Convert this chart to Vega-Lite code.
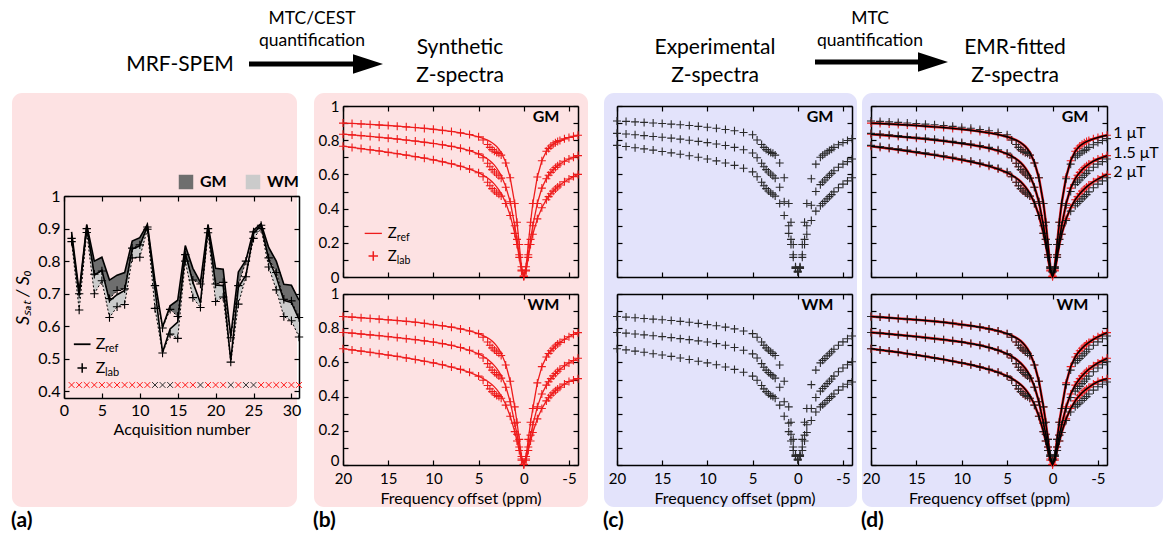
{
"$schema": "https://vega.github.io/schema/vega-lite/v6.json",
"background": "white",
"padding": 0,
"autosize": {"type": "pad"},
"bounds": "flush",
"spacing": 0,
"datasets": {
"acq": [
{"n":1,"t":"GM","ref":0.890,"lab":0.870},{"n":1,"t":"WM","ref":0.875,"lab":0.860},
{"n":2,"t":"GM","ref":0.705,"lab":0.700},{"n":2,"t":"WM","ref":0.695,"lab":0.650},
{"n":3,"t":"GM","ref":0.912,"lab":0.900},{"n":3,"t":"WM","ref":0.905,"lab":0.888},
{"n":4,"t":"GM","ref":0.800,"lab":0.760},{"n":4,"t":"WM","ref":0.757,"lab":0.700},
{"n":5,"t":"GM","ref":0.812,"lab":0.770},{"n":5,"t":"WM","ref":0.772,"lab":0.740},
{"n":6,"t":"GM","ref":0.742,"lab":0.685},{"n":6,"t":"WM","ref":0.678,"lab":0.627},
{"n":7,"t":"GM","ref":0.757,"lab":0.710},{"n":7,"t":"WM","ref":0.697,"lab":0.660},
{"n":8,"t":"GM","ref":0.765,"lab":0.715},{"n":8,"t":"WM","ref":0.710,"lab":0.667},
{"n":9,"t":"GM","ref":0.862,"lab":0.840},{"n":9,"t":"WM","ref":0.837,"lab":0.810},
{"n":10,"t":"GM","ref":0.872,"lab":0.850},{"n":10,"t":"WM","ref":0.847,"lab":0.812},
{"n":11,"t":"GM","ref":0.913,"lab":0.905},{"n":11,"t":"WM","ref":0.907,"lab":0.898},
{"n":12,"t":"GM","ref":0.740,"lab":0.725},{"n":12,"t":"WM","ref":0.715,"lab":0.655},
{"n":13,"t":"GM","ref":0.598,"lab":0.595},{"n":13,"t":"WM","ref":0.520,"lab":0.518},
{"n":14,"t":"GM","ref":0.663,"lab":0.652},{"n":14,"t":"WM","ref":0.592,"lab":0.576},
{"n":15,"t":"GM","ref":0.680,"lab":0.630},{"n":15,"t":"WM","ref":0.613,"lab":0.563},
{"n":16,"t":"GM","ref":0.848,"lab":0.820},{"n":16,"t":"WM","ref":0.825,"lab":0.800},
{"n":17,"t":"GM","ref":0.778,"lab":0.742},{"n":17,"t":"WM","ref":0.735,"lab":0.688},
{"n":18,"t":"GM","ref":0.735,"lab":0.730},{"n":18,"t":"WM","ref":0.672,"lab":0.658},
{"n":19,"t":"GM","ref":0.912,"lab":0.900},{"n":19,"t":"WM","ref":0.905,"lab":0.887},
{"n":20,"t":"GM","ref":0.778,"lab":0.730},{"n":20,"t":"WM","ref":0.727,"lab":0.676},
{"n":21,"t":"GM","ref":0.775,"lab":0.735},{"n":21,"t":"WM","ref":0.725,"lab":0.690},
{"n":22,"t":"GM","ref":0.570,"lab":0.565},{"n":22,"t":"WM","ref":0.495,"lab":0.490},
{"n":23,"t":"GM","ref":0.767,"lab":0.725},{"n":23,"t":"WM","ref":0.720,"lab":0.668},
{"n":24,"t":"GM","ref":0.803,"lab":0.800},{"n":24,"t":"WM","ref":0.757,"lab":0.752},
{"n":25,"t":"GM","ref":0.895,"lab":0.890},{"n":25,"t":"WM","ref":0.885,"lab":0.870},
{"n":26,"t":"GM","ref":0.915,"lab":0.910},{"n":26,"t":"WM","ref":0.910,"lab":0.900},
{"n":27,"t":"GM","ref":0.842,"lab":0.810},{"n":27,"t":"WM","ref":0.806,"lab":0.782},
{"n":28,"t":"GM","ref":0.800,"lab":0.765},{"n":28,"t":"WM","ref":0.752,"lab":0.712},
{"n":29,"t":"GM","ref":0.729,"lab":0.683},{"n":29,"t":"WM","ref":0.680,"lab":0.630},
{"n":30,"t":"GM","ref":0.726,"lab":0.678},{"n":30,"t":"WM","ref":0.673,"lab":0.617},
{"n":31,"t":"GM","ref":0.680,"lab":0.627},{"n":31,"t":"WM","ref":0.622,"lab":0.567}
],
"sched": [
{"n":1,"g":"r"},{"n":2,"g":"r"},{"n":3,"g":"r"},{"n":4,"g":"r"},{"n":5,"g":"r"},{"n":6,"g":"r"},{"n":7,"g":"r"},{"n":8,"g":"r"},{"n":9,"g":"r"},{"n":10,"g":"r"},{"n":11,"g":"r"},{"n":12,"g":"k"},{"n":13,"g":"k"},{"n":14,"g":"k"},{"n":15,"g":"r"},{"n":16,"g":"r"},{"n":17,"g":"r"},{"n":18,"g":"k"},{"n":19,"g":"r"},{"n":20,"g":"r"},{"n":21,"g":"r"},{"n":22,"g":"k"},{"n":23,"g":"r"},{"n":24,"g":"k"},{"n":25,"g":"k"},{"n":26,"g":"r"},{"n":27,"g":"r"},{"n":28,"g":"r"},{"n":29,"g":"r"},{"n":30,"g":"r"},{"n":31,"g":"r"}
],
"z": [
{"t":"GM","b":1,"o":20,"r":0.900,"l":0.900,"e":0.912},{"t":"GM","b":1,"o":19,"r":0.898,"l":0.898,"e":0.910},{"t":"GM","b":1,"o":18,"r":0.895,"l":0.895,"e":0.907},{"t":"GM","b":1,"o":17,"r":0.892,"l":0.892,"e":0.904},{"t":"GM","b":1,"o":16,"r":0.889,"l":0.889,"e":0.901},{"t":"GM","b":1,"o":15,"r":0.886,"l":0.886,"e":0.898},{"t":"GM","b":1,"o":14,"r":0.882,"l":0.882,"e":0.894},{"t":"GM","b":1,"o":13,"r":0.878,"l":0.878,"e":0.890},{"t":"GM","b":1,"o":12,"r":0.874,"l":0.874,"e":0.886},{"t":"GM","b":1,"o":11,"r":0.869,"l":0.869,"e":0.881},{"t":"GM","b":1,"o":10,"r":0.864,"l":0.864,"e":0.876},{"t":"GM","b":1,"o":9,"r":0.858,"l":0.858,"e":0.870},{"t":"GM","b":1,"o":8,"r":0.851,"l":0.851,"e":0.863},{"t":"GM","b":1,"o":7,"r":0.843,"l":0.843,"e":0.855},{"t":"GM","b":1,"o":6,"r":0.833,"l":0.833,"e":0.845},{"t":"GM","b":1,"o":5,"r":0.820,"l":0.820,"e":0.832},{"t":"GM","b":1,"o":4.5,"r":0.811,"l":0.801,"e":0.801},{"t":"GM","b":1,"o":4,"r":0.800,"l":0.775,"e":0.775},{"t":"GM","b":1,"o":3.75,"r":0.793,"l":0.758,"e":0.758},{"t":"GM","b":1,"o":3.5,"r":0.785,"l":0.745,"e":0.745},{"t":"GM","b":1,"o":3.25,"r":0.775,"l":0.735,"e":0.735},{"t":"GM","b":1,"o":3,"r":0.763,"l":0.728,"e":0.728},{"t":"GM","b":1,"o":2.75,"r":0.748,"l":0.723,"e":0.723},{"t":"GM","b":1,"o":2.5,"r":0.728,"l":0.713,"e":0.713},{"t":"GM","b":1,"o":2,"r":0.672,"l":0.667,"e":0.667},{"t":"GM","b":1,"o":1.5,"r":0.580,"l":0.580,"e":0.580},{"t":"GM","b":1,"o":1,"r":0.430,"l":0.430,"e":0.430},{"t":"GM","b":1,"o":0.75,"r":0.320,"l":0.320,"e":0.320},{"t":"GM","b":1,"o":0.5,"r":0.190,"l":0.190,"e":0.190},{"t":"GM","b":1,"o":0.25,"r":0.060,"l":0.060,"e":0.060},{"t":"GM","b":1,"o":0,"r":0.005,"l":0.005,"e":0.035},{"t":"GM","b":1,"o":-0.25,"r":0.060,"l":0.060,"e":0.060},{"t":"GM","b":1,"o":-0.5,"r":0.190,"l":0.190,"e":0.190},{"t":"GM","b":1,"o":-0.75,"r":0.320,"l":0.320,"e":0.320},{"t":"GM","b":1,"o":-1,"r":0.430,"l":0.430,"e":0.430},{"t":"GM","b":1,"o":-1.5,"r":0.585,"l":0.585,"e":0.575},{"t":"GM","b":1,"o":-2,"r":0.680,"l":0.680,"e":0.660},{"t":"GM","b":1,"o":-2.5,"r":0.735,"l":0.735,"e":0.700},{"t":"GM","b":1,"o":-2.75,"r":0.752,"l":0.752,"e":0.712},{"t":"GM","b":1,"o":-3,"r":0.766,"l":0.766,"e":0.721},{"t":"GM","b":1,"o":-3.25,"r":0.776,"l":0.776,"e":0.731},{"t":"GM","b":1,"o":-3.5,"r":0.785,"l":0.785,"e":0.740},{"t":"GM","b":1,"o":-3.75,"r":0.792,"l":0.792,"e":0.747},{"t":"GM","b":1,"o":-4,"r":0.798,"l":0.798,"e":0.758},{"t":"GM","b":1,"o":-4.5,"r":0.808,"l":0.808,"e":0.773},{"t":"GM","b":1,"o":-5,"r":0.816,"l":0.816,"e":0.786},{"t":"GM","b":1,"o":-5.5,"r":0.823,"l":0.823,"e":0.798},{"t":"GM","b":1,"o":-6,"r":0.829,"l":0.829,"e":0.809},
{"t":"GM","b":1.5,"o":20,"r":0.835,"l":0.835,"e":0.840},{"t":"GM","b":1.5,"o":19,"r":0.831,"l":0.831,"e":0.836},{"t":"GM","b":1.5,"o":18,"r":0.827,"l":0.827,"e":0.832},{"t":"GM","b":1.5,"o":17,"r":0.822,"l":0.822,"e":0.827},{"t":"GM","b":1.5,"o":16,"r":0.817,"l":0.817,"e":0.822},{"t":"GM","b":1.5,"o":15,"r":0.812,"l":0.812,"e":0.817},{"t":"GM","b":1.5,"o":14,"r":0.807,"l":0.807,"e":0.812},{"t":"GM","b":1.5,"o":13,"r":0.801,"l":0.801,"e":0.806},{"t":"GM","b":1.5,"o":12,"r":0.795,"l":0.795,"e":0.800},{"t":"GM","b":1.5,"o":11,"r":0.788,"l":0.788,"e":0.793},{"t":"GM","b":1.5,"o":10,"r":0.781,"l":0.781,"e":0.786},{"t":"GM","b":1.5,"o":9,"r":0.773,"l":0.773,"e":0.778},{"t":"GM","b":1.5,"o":8,"r":0.764,"l":0.764,"e":0.769},{"t":"GM","b":1.5,"o":7,"r":0.753,"l":0.753,"e":0.758},{"t":"GM","b":1.5,"o":6,"r":0.739,"l":0.739,"e":0.744},{"t":"GM","b":1.5,"o":5,"r":0.720,"l":0.720,"e":0.725},{"t":"GM","b":1.5,"o":4.5,"r":0.707,"l":0.697,"e":0.697},{"t":"GM","b":1.5,"o":4,"r":0.690,"l":0.665,"e":0.665},{"t":"GM","b":1.5,"o":3.75,"r":0.680,"l":0.645,"e":0.645},{"t":"GM","b":1.5,"o":3.5,"r":0.668,"l":0.628,"e":0.628},{"t":"GM","b":1.5,"o":3.25,"r":0.654,"l":0.614,"e":0.614},{"t":"GM","b":1.5,"o":3,"r":0.637,"l":0.602,"e":0.602},{"t":"GM","b":1.5,"o":2.75,"r":0.617,"l":0.592,"e":0.592},{"t":"GM","b":1.5,"o":2.5,"r":0.593,"l":0.578,"e":0.578},{"t":"GM","b":1.5,"o":2,"r":0.530,"l":0.525,"e":0.525},{"t":"GM","b":1.5,"o":1.5,"r":0.440,"l":0.440,"e":0.440},{"t":"GM","b":1.5,"o":1,"r":0.300,"l":0.300,"e":0.300},{"t":"GM","b":1.5,"o":0.75,"r":0.220,"l":0.220,"e":0.220},{"t":"GM","b":1.5,"o":0.5,"r":0.130,"l":0.130,"e":0.130},{"t":"GM","b":1.5,"o":0.25,"r":0.040,"l":0.040,"e":0.055},{"t":"GM","b":1.5,"o":0,"r":0.004,"l":0.004,"e":0.030},{"t":"GM","b":1.5,"o":-0.25,"r":0.040,"l":0.040,"e":0.055},{"t":"GM","b":1.5,"o":-0.5,"r":0.130,"l":0.130,"e":0.130},{"t":"GM","b":1.5,"o":-0.75,"r":0.220,"l":0.220,"e":0.220},{"t":"GM","b":1.5,"o":-1,"r":0.300,"l":0.300,"e":0.300},{"t":"GM","b":1.5,"o":-1.5,"r":0.430,"l":0.430,"e":0.420},{"t":"GM","b":1.5,"o":-2,"r":0.520,"l":0.520,"e":0.500},{"t":"GM","b":1.5,"o":-2.5,"r":0.575,"l":0.575,"e":0.540},{"t":"GM","b":1.5,"o":-2.75,"r":0.595,"l":0.595,"e":0.555},{"t":"GM","b":1.5,"o":-3,"r":0.612,"l":0.612,"e":0.567},{"t":"GM","b":1.5,"o":-3.25,"r":0.627,"l":0.627,"e":0.582},{"t":"GM","b":1.5,"o":-3.5,"r":0.640,"l":0.640,"e":0.595},{"t":"GM","b":1.5,"o":-3.75,"r":0.651,"l":0.651,"e":0.606},{"t":"GM","b":1.5,"o":-4,"r":0.661,"l":0.661,"e":0.621},{"t":"GM","b":1.5,"o":-4.5,"r":0.677,"l":0.677,"e":0.642},{"t":"GM","b":1.5,"o":-5,"r":0.690,"l":0.690,"e":0.660},{"t":"GM","b":1.5,"o":-5.5,"r":0.700,"l":0.700,"e":0.675},{"t":"GM","b":1.5,"o":-6,"r":0.710,"l":0.710,"e":0.690},
{"t":"GM","b":2,"o":20,"r":0.765,"l":0.765,"e":0.770},{"t":"GM","b":2,"o":19,"r":0.758,"l":0.758,"e":0.763},{"t":"GM","b":2,"o":18,"r":0.751,"l":0.751,"e":0.756},{"t":"GM","b":2,"o":17,"r":0.744,"l":0.744,"e":0.749},{"t":"GM","b":2,"o":16,"r":0.737,"l":0.737,"e":0.742},{"t":"GM","b":2,"o":15,"r":0.729,"l":0.729,"e":0.734},{"t":"GM","b":2,"o":14,"r":0.721,"l":0.721,"e":0.726},{"t":"GM","b":2,"o":13,"r":0.713,"l":0.713,"e":0.718},{"t":"GM","b":2,"o":12,"r":0.704,"l":0.704,"e":0.709},{"t":"GM","b":2,"o":11,"r":0.695,"l":0.695,"e":0.700},{"t":"GM","b":2,"o":10,"r":0.685,"l":0.685,"e":0.690},{"t":"GM","b":2,"o":9,"r":0.674,"l":0.674,"e":0.679},{"t":"GM","b":2,"o":8,"r":0.662,"l":0.662,"e":0.667},{"t":"GM","b":2,"o":7,"r":0.648,"l":0.648,"e":0.653},{"t":"GM","b":2,"o":6,"r":0.631,"l":0.631,"e":0.636},{"t":"GM","b":2,"o":5,"r":0.610,"l":0.610,"e":0.615},{"t":"GM","b":2,"o":4.5,"r":0.596,"l":0.586,"e":0.586},{"t":"GM","b":2,"o":4,"r":0.579,"l":0.554,"e":0.554},{"t":"GM","b":2,"o":3.75,"r":0.569,"l":0.534,"e":0.534},{"t":"GM","b":2,"o":3.5,"r":0.557,"l":0.517,"e":0.517},{"t":"GM","b":2,"o":3.25,"r":0.543,"l":0.503,"e":0.503},{"t":"GM","b":2,"o":3,"r":0.527,"l":0.492,"e":0.492},{"t":"GM","b":2,"o":2.75,"r":0.509,"l":0.484,"e":0.484},{"t":"GM","b":2,"o":2.5,"r":0.488,"l":0.473,"e":0.473},{"t":"GM","b":2,"o":2,"r":0.435,"l":0.430,"e":0.430},{"t":"GM","b":2,"o":1.5,"r":0.360,"l":0.360,"e":0.360},{"t":"GM","b":2,"o":1,"r":0.255,"l":0.255,"e":0.255},{"t":"GM","b":2,"o":0.75,"r":0.190,"l":0.190,"e":0.190},{"t":"GM","b":2,"o":0.5,"r":0.115,"l":0.115,"e":0.115},{"t":"GM","b":2,"o":0.25,"r":0.035,"l":0.035,"e":0.050},{"t":"GM","b":2,"o":0,"r":0.003,"l":0.003,"e":0.030},{"t":"GM","b":2,"o":-0.25,"r":0.035,"l":0.035,"e":0.050},{"t":"GM","b":2,"o":-0.5,"r":0.115,"l":0.115,"e":0.115},{"t":"GM","b":2,"o":-0.75,"r":0.190,"l":0.190,"e":0.190},{"t":"GM","b":2,"o":-1,"r":0.250,"l":0.250,"e":0.250},{"t":"GM","b":2,"o":-1.5,"r":0.340,"l":0.340,"e":0.330},{"t":"GM","b":2,"o":-2,"r":0.405,"l":0.405,"e":0.385},{"t":"GM","b":2,"o":-2.5,"r":0.452,"l":0.452,"e":0.417},{"t":"GM","b":2,"o":-2.75,"r":0.470,"l":0.470,"e":0.430},{"t":"GM","b":2,"o":-3,"r":0.487,"l":0.487,"e":0.442},{"t":"GM","b":2,"o":-3.25,"r":0.502,"l":0.502,"e":0.457},{"t":"GM","b":2,"o":-3.5,"r":0.515,"l":0.515,"e":0.470},{"t":"GM","b":2,"o":-3.75,"r":0.527,"l":0.527,"e":0.482},{"t":"GM","b":2,"o":-4,"r":0.538,"l":0.538,"e":0.498},{"t":"GM","b":2,"o":-4.5,"r":0.557,"l":0.557,"e":0.522},{"t":"GM","b":2,"o":-5,"r":0.573,"l":0.573,"e":0.543},{"t":"GM","b":2,"o":-5.5,"r":0.587,"l":0.587,"e":0.562},{"t":"GM","b":2,"o":-6,"r":0.600,"l":0.600,"e":0.580},
{"t":"WM","b":1,"o":20,"r":0.868,"l":0.868,"e":0.868},{"t":"WM","b":1,"o":19,"r":0.865,"l":0.865,"e":0.865},{"t":"WM","b":1,"o":18,"r":0.861,"l":0.861,"e":0.861},{"t":"WM","b":1,"o":17,"r":0.857,"l":0.857,"e":0.857},{"t":"WM","b":1,"o":16,"r":0.853,"l":0.853,"e":0.853},{"t":"WM","b":1,"o":15,"r":0.849,"l":0.849,"e":0.849},{"t":"WM","b":1,"o":14,"r":0.845,"l":0.845,"e":0.845},{"t":"WM","b":1,"o":13,"r":0.840,"l":0.840,"e":0.840},{"t":"WM","b":1,"o":12,"r":0.835,"l":0.835,"e":0.835},{"t":"WM","b":1,"o":11,"r":0.828,"l":0.828,"e":0.828},{"t":"WM","b":1,"o":10,"r":0.821,"l":0.821,"e":0.821},{"t":"WM","b":1,"o":9,"r":0.814,"l":0.814,"e":0.814},{"t":"WM","b":1,"o":8,"r":0.806,"l":0.806,"e":0.806},{"t":"WM","b":1,"o":7,"r":0.796,"l":0.796,"e":0.796},{"t":"WM","b":1,"o":6,"r":0.784,"l":0.784,"e":0.784},{"t":"WM","b":1,"o":5,"r":0.768,"l":0.768,"e":0.768},{"t":"WM","b":1,"o":4.5,"r":0.757,"l":0.747,"e":0.747},{"t":"WM","b":1,"o":4,"r":0.744,"l":0.719,"e":0.719},{"t":"WM","b":1,"o":3.75,"r":0.735,"l":0.700,"e":0.700},{"t":"WM","b":1,"o":3.5,"r":0.725,"l":0.685,"e":0.685},{"t":"WM","b":1,"o":3.25,"r":0.712,"l":0.672,"e":0.672},{"t":"WM","b":1,"o":3,"r":0.697,"l":0.662,"e":0.662},{"t":"WM","b":1,"o":2.75,"r":0.678,"l":0.653,"e":0.653},{"t":"WM","b":1,"o":2.5,"r":0.655,"l":0.640,"e":0.640},{"t":"WM","b":1,"o":2,"r":0.590,"l":0.585,"e":0.585},{"t":"WM","b":1,"o":1.5,"r":0.490,"l":0.490,"e":0.490},{"t":"WM","b":1,"o":1,"r":0.340,"l":0.340,"e":0.340},{"t":"WM","b":1,"o":0.75,"r":0.250,"l":0.250,"e":0.250},{"t":"WM","b":1,"o":0.5,"r":0.150,"l":0.150,"e":0.150},{"t":"WM","b":1,"o":0.25,"r":0.050,"l":0.050,"e":0.060},{"t":"WM","b":1,"o":0,"r":0.004,"l":0.004,"e":0.035},{"t":"WM","b":1,"o":-0.25,"r":0.050,"l":0.050,"e":0.060},{"t":"WM","b":1,"o":-0.5,"r":0.150,"l":0.150,"e":0.150},{"t":"WM","b":1,"o":-0.75,"r":0.250,"l":0.250,"e":0.250},{"t":"WM","b":1,"o":-1,"r":0.330,"l":0.330,"e":0.330},{"t":"WM","b":1,"o":-1.5,"r":0.480,"l":0.480,"e":0.470},{"t":"WM","b":1,"o":-2,"r":0.575,"l":0.575,"e":0.555},{"t":"WM","b":1,"o":-2.5,"r":0.632,"l":0.632,"e":0.597},{"t":"WM","b":1,"o":-2.75,"r":0.652,"l":0.652,"e":0.612},{"t":"WM","b":1,"o":-3,"r":0.668,"l":0.668,"e":0.623},{"t":"WM","b":1,"o":-3.25,"r":0.683,"l":0.683,"e":0.638},{"t":"WM","b":1,"o":-3.5,"r":0.696,"l":0.696,"e":0.651},{"t":"WM","b":1,"o":-3.75,"r":0.707,"l":0.707,"e":0.662},{"t":"WM","b":1,"o":-4,"r":0.717,"l":0.717,"e":0.677},{"t":"WM","b":1,"o":-4.5,"r":0.735,"l":0.735,"e":0.700},{"t":"WM","b":1,"o":-5,"r":0.750,"l":0.750,"e":0.720},{"t":"WM","b":1,"o":-5.5,"r":0.763,"l":0.763,"e":0.738},{"t":"WM","b":1,"o":-6,"r":0.774,"l":0.774,"e":0.754},
{"t":"WM","b":1.5,"o":20,"r":0.775,"l":0.775,"e":0.775},{"t":"WM","b":1.5,"o":19,"r":0.771,"l":0.771,"e":0.771},{"t":"WM","b":1.5,"o":18,"r":0.766,"l":0.766,"e":0.766},{"t":"WM","b":1.5,"o":17,"r":0.761,"l":0.761,"e":0.761},{"t":"WM","b":1.5,"o":16,"r":0.756,"l":0.756,"e":0.756},{"t":"WM","b":1.5,"o":15,"r":0.751,"l":0.751,"e":0.751},{"t":"WM","b":1.5,"o":14,"r":0.745,"l":0.745,"e":0.745},{"t":"WM","b":1.5,"o":13,"r":0.739,"l":0.739,"e":0.739},{"t":"WM","b":1.5,"o":12,"r":0.733,"l":0.733,"e":0.733},{"t":"WM","b":1.5,"o":11,"r":0.726,"l":0.726,"e":0.726},{"t":"WM","b":1.5,"o":10,"r":0.719,"l":0.719,"e":0.719},{"t":"WM","b":1.5,"o":9,"r":0.710,"l":0.710,"e":0.710},{"t":"WM","b":1.5,"o":8,"r":0.700,"l":0.700,"e":0.700},{"t":"WM","b":1.5,"o":7,"r":0.687,"l":0.687,"e":0.687},{"t":"WM","b":1.5,"o":6,"r":0.671,"l":0.671,"e":0.671},{"t":"WM","b":1.5,"o":5,"r":0.650,"l":0.650,"e":0.650},{"t":"WM","b":1.5,"o":4.5,"r":0.636,"l":0.626,"e":0.626},{"t":"WM","b":1.5,"o":4,"r":0.618,"l":0.593,"e":0.593},{"t":"WM","b":1.5,"o":3.75,"r":0.607,"l":0.572,"e":0.572},{"t":"WM","b":1.5,"o":3.5,"r":0.595,"l":0.555,"e":0.555},{"t":"WM","b":1.5,"o":3.25,"r":0.581,"l":0.541,"e":0.541},{"t":"WM","b":1.5,"o":3,"r":0.565,"l":0.530,"e":0.530},{"t":"WM","b":1.5,"o":2.75,"r":0.546,"l":0.521,"e":0.521},{"t":"WM","b":1.5,"o":2.5,"r":0.523,"l":0.508,"e":0.508},{"t":"WM","b":1.5,"o":2,"r":0.460,"l":0.455,"e":0.455},{"t":"WM","b":1.5,"o":1.5,"r":0.370,"l":0.370,"e":0.370},{"t":"WM","b":1.5,"o":1,"r":0.245,"l":0.245,"e":0.245},{"t":"WM","b":1.5,"o":0.75,"r":0.180,"l":0.180,"e":0.180},{"t":"WM","b":1.5,"o":0.5,"r":0.105,"l":0.105,"e":0.105},{"t":"WM","b":1.5,"o":0.25,"r":0.035,"l":0.035,"e":0.055},{"t":"WM","b":1.5,"o":0,"r":0.003,"l":0.003,"e":0.030},{"t":"WM","b":1.5,"o":-0.25,"r":0.035,"l":0.035,"e":0.055},{"t":"WM","b":1.5,"o":-0.5,"r":0.105,"l":0.105,"e":0.105},{"t":"WM","b":1.5,"o":-0.75,"r":0.175,"l":0.175,"e":0.175},{"t":"WM","b":1.5,"o":-1,"r":0.235,"l":0.235,"e":0.235},{"t":"WM","b":1.5,"o":-1.5,"r":0.340,"l":0.340,"e":0.330},{"t":"WM","b":1.5,"o":-2,"r":0.415,"l":0.415,"e":0.395},{"t":"WM","b":1.5,"o":-2.5,"r":0.467,"l":0.467,"e":0.432},{"t":"WM","b":1.5,"o":-2.75,"r":0.487,"l":0.487,"e":0.447},{"t":"WM","b":1.5,"o":-3,"r":0.505,"l":0.505,"e":0.460},{"t":"WM","b":1.5,"o":-3.25,"r":0.521,"l":0.521,"e":0.476},{"t":"WM","b":1.5,"o":-3.5,"r":0.535,"l":0.535,"e":0.490},{"t":"WM","b":1.5,"o":-3.75,"r":0.548,"l":0.548,"e":0.503},{"t":"WM","b":1.5,"o":-4,"r":0.560,"l":0.560,"e":0.520},{"t":"WM","b":1.5,"o":-4.5,"r":0.580,"l":0.580,"e":0.545},{"t":"WM","b":1.5,"o":-5,"r":0.597,"l":0.597,"e":0.567},{"t":"WM","b":1.5,"o":-5.5,"r":0.611,"l":0.611,"e":0.586},{"t":"WM","b":1.5,"o":-6,"r":0.624,"l":0.624,"e":0.604},
{"t":"WM","b":2,"o":20,"r":0.680,"l":0.680,"e":0.680},{"t":"WM","b":2,"o":19,"r":0.673,"l":0.673,"e":0.673},{"t":"WM","b":2,"o":18,"r":0.666,"l":0.666,"e":0.666},{"t":"WM","b":2,"o":17,"r":0.659,"l":0.659,"e":0.659},{"t":"WM","b":2,"o":16,"r":0.651,"l":0.651,"e":0.651},{"t":"WM","b":2,"o":15,"r":0.643,"l":0.643,"e":0.643},{"t":"WM","b":2,"o":14,"r":0.635,"l":0.635,"e":0.635},{"t":"WM","b":2,"o":13,"r":0.626,"l":0.626,"e":0.626},{"t":"WM","b":2,"o":12,"r":0.617,"l":0.617,"e":0.617},{"t":"WM","b":2,"o":11,"r":0.607,"l":0.607,"e":0.607},{"t":"WM","b":2,"o":10,"r":0.597,"l":0.597,"e":0.597},{"t":"WM","b":2,"o":9,"r":0.586,"l":0.586,"e":0.586},{"t":"WM","b":2,"o":8,"r":0.573,"l":0.573,"e":0.573},{"t":"WM","b":2,"o":7,"r":0.559,"l":0.559,"e":0.559},{"t":"WM","b":2,"o":6,"r":0.542,"l":0.542,"e":0.542},{"t":"WM","b":2,"o":5,"r":0.520,"l":0.520,"e":0.520},{"t":"WM","b":2,"o":4.5,"r":0.506,"l":0.496,"e":0.496},{"t":"WM","b":2,"o":4,"r":0.490,"l":0.465,"e":0.465},{"t":"WM","b":2,"o":3.75,"r":0.480,"l":0.445,"e":0.445},{"t":"WM","b":2,"o":3.5,"r":0.469,"l":0.429,"e":0.429},{"t":"WM","b":2,"o":3.25,"r":0.457,"l":0.417,"e":0.417},{"t":"WM","b":2,"o":3,"r":0.442,"l":0.407,"e":0.407},{"t":"WM","b":2,"o":2.75,"r":0.425,"l":0.400,"e":0.400},{"t":"WM","b":2,"o":2.5,"r":0.405,"l":0.390,"e":0.390},{"t":"WM","b":2,"o":2,"r":0.355,"l":0.350,"e":0.350},{"t":"WM","b":2,"o":1.5,"r":0.285,"l":0.285,"e":0.285},{"t":"WM","b":2,"o":1,"r":0.195,"l":0.195,"e":0.195},{"t":"WM","b":2,"o":0.75,"r":0.140,"l":0.140,"e":0.140},{"t":"WM","b":2,"o":0.5,"r":0.085,"l":0.085,"e":0.085},{"t":"WM","b":2,"o":0.25,"r":0.028,"l":0.028,"e":0.050},{"t":"WM","b":2,"o":0,"r":0.002,"l":0.002,"e":0.030},{"t":"WM","b":2,"o":-0.25,"r":0.028,"l":0.028,"e":0.050},{"t":"WM","b":2,"o":-0.5,"r":0.085,"l":0.085,"e":0.085},{"t":"WM","b":2,"o":-0.75,"r":0.140,"l":0.140,"e":0.140},{"t":"WM","b":2,"o":-1,"r":0.190,"l":0.190,"e":0.190},{"t":"WM","b":2,"o":-1.5,"r":0.270,"l":0.270,"e":0.260},{"t":"WM","b":2,"o":-2,"r":0.330,"l":0.330,"e":0.310},{"t":"WM","b":2,"o":-2.5,"r":0.375,"l":0.375,"e":0.340},{"t":"WM","b":2,"o":-2.75,"r":0.393,"l":0.393,"e":0.353},{"t":"WM","b":2,"o":-3,"r":0.408,"l":0.408,"e":0.363},{"t":"WM","b":2,"o":-3.25,"r":0.422,"l":0.422,"e":0.377},{"t":"WM","b":2,"o":-3.5,"r":0.434,"l":0.434,"e":0.389},{"t":"WM","b":2,"o":-3.75,"r":0.445,"l":0.445,"e":0.400},{"t":"WM","b":2,"o":-4,"r":0.455,"l":0.455,"e":0.415},{"t":"WM","b":2,"o":-4.5,"r":0.473,"l":0.473,"e":0.438},{"t":"WM","b":2,"o":-5,"r":0.488,"l":0.488,"e":0.458},{"t":"WM","b":2,"o":-5.5,"r":0.497,"l":0.497,"e":0.472},{"t":"WM","b":2,"o":-6,"r":0.505,"l":0.505,"e":0.485}
]
},
"hconcat": [
{
"width": 1, "height": 359,
"layer": [
{"data": {"values": [{}]}, "mark": {"type": "rect", "fill": "white"}, "encoding": {"x": {"datum": 0, "type": "quantitative", "scale": {"domain": [0,1163], "range": [-63,1100], "nice": false, "zero": false}, "axis": null}, "x2": {"datum": 1163}, "y": {"datum": 0, "type": "quantitative", "scale": {"domain": [0,535], "range": [-106,429], "nice": false, "zero": false}, "axis": null}, "y2": {"datum": 535}}},
{"data": {"values": [{}]}, "mark": {"type": "rect", "fill": "#fde2e3", "cornerRadius": 10}, "encoding": {"x": {"datum": 12, "type": "quantitative", "axis": null}, "x2": {"datum": 297}, "y": {"datum": 93, "type": "quantitative", "axis": null}, "y2": {"datum": 507}}},
{"data": {"values": [{}]}, "mark": {"type": "rect", "fill": "#fde2e3", "cornerRadius": 10}, "encoding": {"x": {"datum": 314, "type": "quantitative", "axis": null}, "x2": {"datum": 588}, "y": {"datum": 93, "type": "quantitative", "axis": null}, "y2": {"datum": 507}}},
{"data": {"values": [{}]}, "mark": {"type": "rect", "fill": "#e3e3fb", "cornerRadius": 10}, "encoding": {"x": {"datum": 604, "type": "quantitative", "axis": null}, "x2": {"datum": 857}, "y": {"datum": 93, "type": "quantitative", "axis": null}, "y2": {"datum": 507}}},
{"data": {"values": [{}]}, "mark": {"type": "rect", "fill": "#e3e3fb", "cornerRadius": 10}, "encoding": {"x": {"datum": 862, "type": "quantitative", "axis": null}, "x2": {"datum": 1163}, "y": {"datum": 93, "type": "quantitative", "axis": null}, "y2": {"datum": 507}}},
{"data": {"values": [{}]}, "mark": {"type": "text", "text": "MRF-SPEM", "fontSize": 21, "align": "center", "baseline": "middle"}, "encoding": {"x": {"datum": 180, "type": "quantitative", "axis": null}, "y": {"datum": 65, "type": "quantitative", "axis": null}}},
{"data": {"values": [{}]}, "mark": {"type": "text", "text": ["MTC/CEST", "quantification"], "fontSize": 17.5, "lineHeight": 22, "align": "center", "baseline": "top"}, "encoding": {"x": {"datum": 312, "type": "quantitative", "axis": null}, "y": {"datum": 10, "type": "quantitative", "axis": null}}},
{"data": {"values": [{}]}, "mark": {"type": "text", "text": ["Synthetic", "Z-spectra"], "fontSize": 21, "lineHeight": 28, "align": "center", "baseline": "top"}, "encoding": {"x": {"datum": 460, "type": "quantitative", "axis": null}, "y": {"datum": 37, "type": "quantitative", "axis": null}}},
{"data": {"values": [{}]}, "mark": {"type": "text", "text": ["Experimental", "Z-spectra"], "fontSize": 21, "lineHeight": 28, "align": "center", "baseline": "top"}, "encoding": {"x": {"datum": 715, "type": "quantitative", "axis": null}, "y": {"datum": 37, "type": "quantitative", "axis": null}}},
{"data": {"values": [{}]}, "mark": {"type": "text", "text": ["MTC", "quantification"], "fontSize": 17.5, "lineHeight": 22, "align": "center", "baseline": "top"}, "encoding": {"x": {"datum": 870, "type": "quantitative", "axis": null}, "y": {"datum": 10, "type": "quantitative", "axis": null}}},
{"data": {"values": [{}]}, "mark": {"type": "text", "text": ["EMR-fitted", "Z-spectra"], "fontSize": 21, "lineHeight": 28, "align": "center", "baseline": "top"}, "encoding": {"x": {"datum": 1015, "type": "quantitative", "axis": null}, "y": {"datum": 37, "type": "quantitative", "axis": null}}},
{"data": {"values": [{}]}, "mark": {"type": "rule", "color": "black", "strokeWidth": 5}, "encoding": {"x": {"datum": 249, "type": "quantitative", "axis": null}, "x2": {"datum": 362}, "y": {"datum": 64, "type": "quantitative", "axis": null}}},
{"data": {"values": [{}]}, "mark": {"type": "point", "shape": "M-1,-0.65L1,0L-1,0.65Z", "size": 900, "filled": true, "color": "black", "opacity": 1}, "encoding": {"x": {"datum": 368, "type": "quantitative", "axis": null}, "y": {"datum": 64, "type": "quantitative", "axis": null}}},
{"data": {"values": [{}]}, "mark": {"type": "rule", "color": "black", "strokeWidth": 5}, "encoding": {"x": {"datum": 815, "type": "quantitative", "axis": null}, "x2": {"datum": 927}, "y": {"datum": 62, "type": "quantitative", "axis": null}}},
{"data": {"values": [{}]}, "mark": {"type": "point", "shape": "M-1,-0.65L1,0L-1,0.65Z", "size": 900, "filled": true, "color": "black", "opacity": 1}, "encoding": {"x": {"datum": 933, "type": "quantitative", "axis": null}, "y": {"datum": 62, "type": "quantitative", "axis": null}}},
{"data": {"values": [{}]}, "mark": {"type": "text", "text": "(a)", "fontSize": 21, "fontWeight": "bold", "align": "left", "baseline": "middle"}, "encoding": {"x": {"datum": 11, "type": "quantitative", "axis": null}, "y": {"datum": 521, "type": "quantitative", "axis": null}}},
{"data": {"values": [{}]}, "mark": {"type": "text", "text": "(b)", "fontSize": 21, "fontWeight": "bold", "align": "left", "baseline": "middle"}, "encoding": {"x": {"datum": 313, "type": "quantitative", "axis": null}, "y": {"datum": 521, "type": "quantitative", "axis": null}}},
{"data": {"values": [{}]}, "mark": {"type": "text", "text": "(c)", "fontSize": 21, "fontWeight": "bold", "align": "left", "baseline": "middle"}, "encoding": {"x": {"datum": 603, "type": "quantitative", "axis": null}, "y": {"datum": 521, "type": "quantitative", "axis": null}}},
{"data": {"values": [{}]}, "mark": {"type": "text", "text": "(d)", "fontSize": 21, "fontWeight": "bold", "align": "left", "baseline": "middle"}, "encoding": {"x": {"datum": 861, "type": "quantitative", "axis": null}, "y": {"datum": 521, "type": "quantitative", "axis": null}}}
]
},
{
"width": 235, "height": 359,
"resolve": {"axis": {"x": "independent", "y": "independent"}},
"layer": [
{"data": {"name": "acq"}, "mark": {"type": "area", "opacity": 1},
 "encoding": {
  "x": {"field": "n", "type": "quantitative", "scale": {"domain": [0,31], "nice": false, "zero": false}, "axis": {"orient": "bottom", "offset": -67, "values": [0,5,10,15,20,25,30], "labelExpr": "'' + datum.value", "labelFontSize": 16, "title": "Acquisition number", "titlePadding": 3}},
  "y": {"field": "ref", "type": "quantitative", "scale": {"domain": [0.38,1], "range": [292,90], "nice": false, "zero": false}, "axis": {"orient": "left", "values": [0.4,0.5,0.6,0.7,0.8,0.9,1], "format": "~g", "labelFontSize": 16, "title": "Sₛₐₜ / S₀", "titleFontStyle": "italic", "titleFontSize": 18, "titlePadding": 5}},
  "y2": {"field": "lab"},
  "color": {"field": "t", "type": "nominal", "scale": {"domain": ["GM","WM"], "range": ["#6e6e6e","#cbcbcb"]}, "legend": {"orient": "none", "legendX": 115, "legendY": 68, "direction": "horizontal", "title": null, "symbolType": "square", "symbolSize": 210, "symbolStrokeWidth": 0, "symbolOpacity": 1, "labelFontWeight": "bold", "labelFontSize": 16, "labelOffset": 6, "columnPadding": 18, "padding": 0}}
 }},
{"data": {"name": "acq"}, "mark": {"type": "line", "color": "black", "strokeWidth": 1.6},
 "encoding": {
  "x": {"field": "n", "type": "quantitative", "scale": {"domain": [0,31], "nice": false, "zero": false}, "axis": {"orient": "top", "offset": -90, "values": [0,5,10,15,20,25,30], "labels": false, "title": null}},
  "y": {"field": "ref", "type": "quantitative", "scale": {"domain": [0.38,1], "range": [292,90], "nice": false, "zero": false}, "axis": {"orient": "right", "values": [0.4,0.5,0.6,0.7,0.8,0.9,1], "labels": false, "title": null}},
  "detail": {"field": "t", "type": "nominal"}
 }},
{"data": {"name": "acq"}, "mark": {"type": "line", "color": "black", "strokeWidth": 1, "strokeDash": [2,2]},
 "encoding": {
  "x": {"field": "n", "type": "quantitative", "scale": {"domain": [0,31], "nice": false, "zero": false}, "axis": null},
  "y": {"field": "lab", "type": "quantitative", "scale": {"domain": [0.38,1], "range": [292,90], "nice": false, "zero": false}, "axis": null},
  "detail": {"field": "t", "type": "nominal"}
 }},
{"data": {"name": "acq"}, "mark": {"type": "point", "shape": "M-1,0L1,0M0,-1L0,1", "size": 70, "filled": false, "color": "black", "strokeWidth": 1.1, "opacity": 1},
 "encoding": {
  "x": {"field": "n", "type": "quantitative", "scale": {"domain": [0,31], "nice": false, "zero": false}, "axis": null},
  "y": {"field": "lab", "type": "quantitative", "scale": {"domain": [0.38,1], "range": [292,90], "nice": false, "zero": false}, "axis": null}
 }},
{"data": {"name": "sched"}, "transform": [{"filter": "datum.g === 'r'"}], "mark": {"type": "point", "shape": "M-1,-1L1,1M-1,1L1,-1", "size": 34, "filled": false, "color": "#ff1a1a", "strokeWidth": 1, "opacity": 1},
 "encoding": {
  "x": {"field": "n", "type": "quantitative", "scale": {"domain": [0,31], "nice": false, "zero": false}, "axis": null},
  "y": {"datum": 0.42, "type": "quantitative", "scale": {"domain": [0.38,1], "range": [292,90], "nice": false, "zero": false}, "axis": null}
 }},
{"data": {"name": "sched"}, "transform": [{"filter": "datum.g === 'k'"}], "mark": {"type": "point", "shape": "M-1,-1L1,1M-1,1L1,-1", "size": 34, "filled": false, "color": "#333333", "strokeWidth": 1, "opacity": 1},
 "encoding": {
  "x": {"field": "n", "type": "quantitative", "scale": {"domain": [0,31], "nice": false, "zero": false}, "axis": null},
  "y": {"datum": 0.42, "type": "quantitative", "scale": {"domain": [0.38,1], "range": [292,90], "nice": false, "zero": false}, "axis": null}
 }},
{"data": {"values": [{}]}, "mark": {"type": "rule", "color": "black", "strokeWidth": 1.8},
 "encoding": {"x": {"datum": 1.3, "type": "quantitative", "axis": null}, "x2": {"datum": 3.5}, "y": {"datum": 0.545, "type": "quantitative", "axis": null}}},
{"data": {"values": [{}]}, "mark": {"type": "point", "shape": "M-1,0L1,0M0,-1L0,1", "size": 90, "filled": false, "color": "black", "strokeWidth": 1.5, "opacity": 1},
 "encoding": {"x": {"datum": 2.4, "type": "quantitative", "axis": null}, "y": {"datum": 0.472, "type": "quantitative", "axis": null}}},
{"data": {"values": [{}]}, "mark": {"type": "text", "text": "Z", "fontSize": 16, "align": "left", "baseline": "middle"},
 "encoding": {"x": {"datum": 4.2, "type": "quantitative", "axis": null}, "y": {"datum": 0.545, "type": "quantitative", "axis": null}}},
{"data": {"values": [{}]}, "mark": {"type": "text", "text": "ref", "fontSize": 11, "align": "left", "baseline": "middle", "dy": 5},
 "encoding": {"x": {"datum": 5.4, "type": "quantitative", "axis": null}, "y": {"datum": 0.545, "type": "quantitative", "axis": null}}},
{"data": {"values": [{}]}, "mark": {"type": "text", "text": "Z", "fontSize": 16, "align": "left", "baseline": "middle"},
 "encoding": {"x": {"datum": 4.2, "type": "quantitative", "axis": null}, "y": {"datum": 0.472, "type": "quantitative", "axis": null}}},
{"data": {"values": [{}]}, "mark": {"type": "text", "text": "lab", "fontSize": 11, "align": "left", "baseline": "middle", "dy": 5},
 "encoding": {"x": {"datum": 5.4, "type": "quantitative", "axis": null}, "y": {"datum": 0.472, "type": "quantitative", "axis": null}}}
]
},
{"width": 44, "height": 359, "data": {"values": [{}]}, "mark": {"type": "text", "text": ""}},
{
"width": 235, "height": 359,
"resolve": {"scale": {"y": "independent"}, "axis": {"x": "independent", "y": "independent"}},
"layer": [
{"data": {"name": "z"}, "transform": [{"filter": "datum.t === 'GM'"}], "mark": {"type": "line", "color": "#ee1c1c", "strokeWidth": 1.3},
 "encoding": {
  "x": {"field": "o", "type": "quantitative", "scale": {"domain": [20,-6], "nice": false, "zero": false}, "axis": {"orient": "top", "values": [20,15,10,5,0,-5], "labels": false, "title": null}},
  "y": {"field": "r", "type": "quantitative", "scale": {"domain": [0,1], "range": [171,0], "nice": false, "zero": false}, "axis": {"orient": "left", "values": [0,0.1,0.2,0.3,0.4,0.5,0.6,0.7,0.8,0.9,1], "labelExpr": "round(datum.value*10) % 2 === 0 ? format(datum.value, '~g') : ''", "title": null}},
  "detail": {"field": "b", "type": "nominal"}
 }},
{"data": {"name": "z"}, "transform": [{"filter": "datum.t === 'GM'"}], "mark": {"type": "point", "shape": "M-1,0L1,0M0,-1L0,1", "size": 64, "filled": false, "color": "#ee1c1c", "strokeWidth": 1.1, "opacity": 1},
 "encoding": {
  "x": {"field": "o", "type": "quantitative", "scale": {"domain": [20,-6], "nice": false, "zero": false}, "axis": {"orient": "bottom", "offset": -188, "values": [20,15,10,5,0,-5], "labels": false, "title": null}},
  "y": {"field": "l", "type": "quantitative", "scale": {"domain": [0,1], "range": [171,0], "nice": false, "zero": false}, "axis": {"orient": "right", "values": [0,0.1,0.2,0.3,0.4,0.5,0.6,0.7,0.8,0.9,1], "labels": false, "title": null}}
 }},
{"data": {"name": "z"}, "transform": [{"filter": "datum.t === 'WM'"}], "mark": {"type": "line", "color": "#ee1c1c", "strokeWidth": 1.3},
 "encoding": {
  "x": {"field": "o", "type": "quantitative", "scale": {"domain": [20,-6], "nice": false, "zero": false}, "axis": {"orient": "bottom", "values": [20,15,10,5,0,-5], "labelExpr": "'' + datum.value", "labelPadding": 11, "title": "Frequency offset (ppm)"}},
  "y": {"field": "r", "type": "quantitative", "scale": {"domain": [0,1], "range": [359,188], "nice": false, "zero": false}, "axis": {"orient": "left", "values": [0,0.1,0.2,0.3,0.4,0.5,0.6,0.7,0.8,0.9,1], "labelExpr": "round(datum.value*10) % 2 === 0 ? format(datum.value, '~g') : ''", "labelOffset": {"condition": {"test": "datum.value === 0", "value": -5}, "value": -1}, "title": null}},
  "detail": {"field": "b", "type": "nominal"}
 }},
{"data": {"name": "z"}, "transform": [{"filter": "datum.t === 'WM'"}], "mark": {"type": "point", "shape": "M-1,0L1,0M0,-1L0,1", "size": 64, "filled": false, "color": "#ee1c1c", "strokeWidth": 1.1, "opacity": 1},
 "encoding": {
  "x": {"field": "o", "type": "quantitative", "scale": {"domain": [20,-6], "nice": false, "zero": false}, "axis": {"orient": "top", "offset": -188, "values": [20,15,10,5,0,-5], "labels": false, "title": null}},
  "y": {"field": "l", "type": "quantitative", "scale": {"domain": [0,1], "range": [359,188], "nice": false, "zero": false}, "axis": {"orient": "right", "values": [0,0.1,0.2,0.3,0.4,0.5,0.6,0.7,0.8,0.9,1], "labels": false, "title": null}}
 }},
{"data": {"values": [{}]}, "mark": {"type": "text", "text": "GM", "fontSize": 16, "fontWeight": "bold", "align": "right", "baseline": "middle"},
 "encoding": {"x": {"datum": -3.95, "type": "quantitative", "scale": {"domain": [20,-6], "nice": false, "zero": false}, "axis": null}, "y": {"datum": 0.935, "type": "quantitative", "scale": {"domain": [0,1], "range": [171,0], "nice": false, "zero": false}, "axis": null}}},
{"data": {"values": [{}]}, "mark": {"type": "text", "text": "WM", "fontSize": 16, "fontWeight": "bold", "align": "right", "baseline": "middle"},
 "encoding": {"x": {"datum": -3.95, "type": "quantitative", "scale": {"domain": [20,-6], "nice": false, "zero": false}, "axis": null}, "y": {"datum": 0.935, "type": "quantitative", "scale": {"domain": [0,1], "range": [359,188], "nice": false, "zero": false}, "axis": null}}},
{"data": {"values": [{}]}, "mark": {"type": "rule", "color": "#ee1c1c", "strokeWidth": 1.3},
 "encoding": {"x": {"datum": 17.6, "type": "quantitative", "scale": {"domain": [20,-6], "nice": false, "zero": false}, "axis": null}, "x2": {"datum": 15.7}, "y": {"datum": 0.255, "type": "quantitative", "scale": {"domain": [0,1], "range": [171,0], "nice": false, "zero": false}, "axis": null}}},
{"data": {"values": [{}]}, "mark": {"type": "point", "shape": "M-1,0L1,0M0,-1L0,1", "size": 90, "filled": false, "color": "#ee1c1c", "strokeWidth": 1.5, "opacity": 1},
 "encoding": {"x": {"datum": 16.65, "type": "quantitative", "scale": {"domain": [20,-6], "nice": false, "zero": false}, "axis": null}, "y": {"datum": 0.123, "type": "quantitative", "scale": {"domain": [0,1], "range": [171,0], "nice": false, "zero": false}, "axis": null}}},
{"data": {"values": [{}]}, "mark": {"type": "text", "text": "Z", "fontSize": 15, "align": "left", "baseline": "middle"},
 "encoding": {"x": {"datum": 15.05, "type": "quantitative", "scale": {"domain": [20,-6], "nice": false, "zero": false}, "axis": null}, "y": {"datum": 0.255, "type": "quantitative", "scale": {"domain": [0,1], "range": [171,0], "nice": false, "zero": false}, "axis": null}}},
{"data": {"values": [{}]}, "mark": {"type": "text", "text": "ref", "fontSize": 10.5, "align": "left", "baseline": "middle", "dy": 5},
 "encoding": {"x": {"datum": 14.05, "type": "quantitative", "scale": {"domain": [20,-6], "nice": false, "zero": false}, "axis": null}, "y": {"datum": 0.255, "type": "quantitative", "scale": {"domain": [0,1], "range": [171,0], "nice": false, "zero": false}, "axis": null}}},
{"data": {"values": [{}]}, "mark": {"type": "text", "text": "Z", "fontSize": 15, "align": "left", "baseline": "middle"},
 "encoding": {"x": {"datum": 15.05, "type": "quantitative", "scale": {"domain": [20,-6], "nice": false, "zero": false}, "axis": null}, "y": {"datum": 0.123, "type": "quantitative", "scale": {"domain": [0,1], "range": [171,0], "nice": false, "zero": false}, "axis": null}}},
{"data": {"values": [{}]}, "mark": {"type": "text", "text": "lab", "fontSize": 10.5, "align": "left", "baseline": "middle", "dy": 5},
 "encoding": {"x": {"datum": 14.05, "type": "quantitative", "scale": {"domain": [20,-6], "nice": false, "zero": false}, "axis": null}, "y": {"datum": 0.123, "type": "quantitative", "scale": {"domain": [0,1], "range": [171,0], "nice": false, "zero": false}, "axis": null}}}
]
},
{"width": 39, "height": 359, "data": {"values": [{}]}, "mark": {"type": "text", "text": ""}},
{
"width": 235, "height": 359,
"resolve": {"scale": {"y": "independent"}, "axis": {"x": "independent", "y": "independent"}},
"layer": [
{"data": {"name": "z"}, "transform": [{"filter": "datum.t === 'GM'"}], "mark": {"type": "point", "shape": "M-1,0L1,0M0,-1L0,1", "size": 64, "filled": false, "color": "#2a2a2a", "strokeWidth": 1.1, "opacity": 1},
 "encoding": {
  "x": {"field": "o", "type": "quantitative", "scale": {"domain": [20,-6], "nice": false, "zero": false}, "axis": {"orient": "top", "values": [20,15,10,5,0,-5], "labels": false, "title": null}},
  "y": {"field": "e", "type": "quantitative", "scale": {"domain": [0,1], "range": [171,0], "nice": false, "zero": false}, "axis": {"orient": "left", "values": [0,0.1,0.2,0.3,0.4,0.5,0.6,0.7,0.8,0.9,1], "labels": false, "title": null}}
 }},
{"data": {"values": [{}]}, "mark": {"type": "text", "text": "GM", "fontSize": 16, "fontWeight": "bold", "align": "right", "baseline": "middle"},
 "encoding": {"x": {"datum": -3.95, "type": "quantitative", "scale": {"domain": [20,-6], "nice": false, "zero": false}, "axis": {"orient": "bottom", "offset": -188, "values": [20,15,10,5,0,-5], "labels": false, "title": null}}, "y": {"datum": 0.935, "type": "quantitative", "scale": {"domain": [0,1], "range": [171,0], "nice": false, "zero": false}, "axis": {"orient": "right", "values": [0,0.1,0.2,0.3,0.4,0.5,0.6,0.7,0.8,0.9,1], "labels": false, "title": null}}}},
{"data": {"name": "z"}, "transform": [{"filter": "datum.t === 'WM'"}], "mark": {"type": "point", "shape": "M-1,0L1,0M0,-1L0,1", "size": 64, "filled": false, "color": "#2a2a2a", "strokeWidth": 1.1, "opacity": 1},
 "encoding": {
  "x": {"field": "o", "type": "quantitative", "scale": {"domain": [20,-6], "nice": false, "zero": false}, "axis": {"orient": "bottom", "values": [20,15,10,5,0,-5], "labelExpr": "'' + datum.value", "labelPadding": 11, "title": "Frequency offset (ppm)"}},
  "y": {"field": "e", "type": "quantitative", "scale": {"domain": [0,1], "range": [359,188], "nice": false, "zero": false}, "axis": {"orient": "left", "values": [0,0.1,0.2,0.3,0.4,0.5,0.6,0.7,0.8,0.9,1], "labels": false, "title": null}}
 }},
{"data": {"values": [{}]}, "mark": {"type": "text", "text": "WM", "fontSize": 16, "fontWeight": "bold", "align": "right", "baseline": "middle"},
 "encoding": {"x": {"datum": -3.95, "type": "quantitative", "scale": {"domain": [20,-6], "nice": false, "zero": false}, "axis": {"orient": "top", "offset": -188, "values": [20,15,10,5,0,-5], "labels": false, "title": null}}, "y": {"datum": 0.935, "type": "quantitative", "scale": {"domain": [0,1], "range": [359,188], "nice": false, "zero": false}, "axis": {"orient": "right", "values": [0,0.1,0.2,0.3,0.4,0.5,0.6,0.7,0.8,0.9,1], "labels": false, "title": null}}}}
]
},
{"width": 19, "height": 359, "data": {"values": [{}]}, "mark": {"type": "text", "text": ""}},
{
"width": 236, "height": 359,
"resolve": {"scale": {"y": "independent"}, "axis": {"x": "independent", "y": "independent"}},
"layer": [
{"data": {"name": "z"}, "transform": [{"filter": "datum.t === 'GM'"}], "mark": {"type": "line", "color": "#ee1c1c", "strokeWidth": 2.6},
 "encoding": {
  "x": {"field": "o", "type": "quantitative", "scale": {"domain": [20,-6], "nice": false, "zero": false}, "axis": {"orient": "top", "values": [20,15,10,5,0,-5], "labels": false, "title": null}},
  "y": {"field": "r", "type": "quantitative", "scale": {"domain": [0,1], "range": [171,0], "nice": false, "zero": false}, "axis": {"orient": "left", "values": [0,0.1,0.2,0.3,0.4,0.5,0.6,0.7,0.8,0.9,1], "labels": false, "title": null}},
  "detail": {"field": "b", "type": "nominal"}
 }},
{"data": {"name": "z"}, "transform": [{"filter": "datum.t === 'GM'"}], "mark": {"type": "point", "shape": "M-1,0L1,0M0,-1L0,1", "size": 64, "filled": false, "color": "#ee1c1c", "strokeWidth": 1.1, "opacity": 1},
 "encoding": {
  "x": {"field": "o", "type": "quantitative", "scale": {"domain": [20,-6], "nice": false, "zero": false}, "axis": {"orient": "bottom", "offset": -188, "values": [20,15,10,5,0,-5], "labels": false, "title": null}},
  "y": {"field": "l", "type": "quantitative", "scale": {"domain": [0,1], "range": [171,0], "nice": false, "zero": false}, "axis": {"orient": "right", "values": [0,0.1,0.2,0.3,0.4,0.5,0.6,0.7,0.8,0.9,1], "labels": false, "title": null}}
 }},
{"data": {"name": "z"}, "transform": [{"filter": "datum.t === 'GM'"}], "mark": {"type": "point", "shape": "M-1,0L1,0M0,-1L0,1", "size": 64, "filled": false, "color": "#2a2a2a", "strokeWidth": 1.1, "opacity": 1},
 "encoding": {
  "x": {"field": "o", "type": "quantitative", "scale": {"domain": [20,-6], "nice": false, "zero": false}, "axis": null},
  "y": {"field": "e", "type": "quantitative", "scale": {"domain": [0,1], "range": [171,0], "nice": false, "zero": false}, "axis": null}
 }},
{"data": {"name": "z"}, "transform": [{"filter": "datum.t === 'GM'"}], "mark": {"type": "line", "color": "black", "strokeWidth": 1.4},
 "encoding": {
  "x": {"field": "o", "type": "quantitative", "scale": {"domain": [20,-6], "nice": false, "zero": false}, "axis": null},
  "y": {"field": "r", "type": "quantitative", "scale": {"domain": [0,1], "range": [171,0], "nice": false, "zero": false}, "axis": null},
  "detail": {"field": "b", "type": "nominal"}
 }},
{"data": {"name": "z"}, "transform": [{"filter": "datum.t === 'WM'"}], "mark": {"type": "line", "color": "#ee1c1c", "strokeWidth": 2.6},
 "encoding": {
  "x": {"field": "o", "type": "quantitative", "scale": {"domain": [20,-6], "nice": false, "zero": false}, "axis": {"orient": "bottom", "values": [20,15,10,5,0,-5], "labelExpr": "'' + datum.value", "labelPadding": 11, "title": "Frequency offset (ppm)"}},
  "y": {"field": "r", "type": "quantitative", "scale": {"domain": [0,1], "range": [359,188], "nice": false, "zero": false}, "axis": {"orient": "left", "values": [0,0.1,0.2,0.3,0.4,0.5,0.6,0.7,0.8,0.9,1], "labels": false, "title": null}},
  "detail": {"field": "b", "type": "nominal"}
 }},
{"data": {"name": "z"}, "transform": [{"filter": "datum.t === 'WM'"}], "mark": {"type": "point", "shape": "M-1,0L1,0M0,-1L0,1", "size": 64, "filled": false, "color": "#ee1c1c", "strokeWidth": 1.1, "opacity": 1},
 "encoding": {
  "x": {"field": "o", "type": "quantitative", "scale": {"domain": [20,-6], "nice": false, "zero": false}, "axis": {"orient": "top", "offset": -188, "values": [20,15,10,5,0,-5], "labels": false, "title": null}},
  "y": {"field": "l", "type": "quantitative", "scale": {"domain": [0,1], "range": [359,188], "nice": false, "zero": false}, "axis": {"orient": "right", "values": [0,0.1,0.2,0.3,0.4,0.5,0.6,0.7,0.8,0.9,1], "labels": false, "title": null}}
 }},
{"data": {"name": "z"}, "transform": [{"filter": "datum.t === 'WM'"}], "mark": {"type": "point", "shape": "M-1,0L1,0M0,-1L0,1", "size": 64, "filled": false, "color": "#2a2a2a", "strokeWidth": 1.1, "opacity": 1},
 "encoding": {
  "x": {"field": "o", "type": "quantitative", "scale": {"domain": [20,-6], "nice": false, "zero": false}, "axis": null},
  "y": {"field": "e", "type": "quantitative", "scale": {"domain": [0,1], "range": [359,188], "nice": false, "zero": false}, "axis": null}
 }},
{"data": {"name": "z"}, "transform": [{"filter": "datum.t === 'WM'"}], "mark": {"type": "line", "color": "black", "strokeWidth": 1.4},
 "encoding": {
  "x": {"field": "o", "type": "quantitative", "scale": {"domain": [20,-6], "nice": false, "zero": false}, "axis": null},
  "y": {"field": "r", "type": "quantitative", "scale": {"domain": [0,1], "range": [359,188], "nice": false, "zero": false}, "axis": null},
  "detail": {"field": "b", "type": "nominal"}
 }},
{"data": {"values": [{}]}, "mark": {"type": "text", "text": "GM", "fontSize": 16, "fontWeight": "bold", "align": "right", "baseline": "middle"},
 "encoding": {"x": {"datum": -3.95, "type": "quantitative", "scale": {"domain": [20,-6], "nice": false, "zero": false}, "axis": null}, "y": {"datum": 0.935, "type": "quantitative", "scale": {"domain": [0,1], "range": [171,0], "nice": false, "zero": false}, "axis": null}}},
{"data": {"values": [{}]}, "mark": {"type": "text", "text": "WM", "fontSize": 16, "fontWeight": "bold", "align": "right", "baseline": "middle"},
 "encoding": {"x": {"datum": -3.95, "type": "quantitative", "scale": {"domain": [20,-6], "nice": false, "zero": false}, "axis": null}, "y": {"datum": 0.935, "type": "quantitative", "scale": {"domain": [0,1], "range": [359,188], "nice": false, "zero": false}, "axis": null}}},
{"data": {"values": [{}]}, "mark": {"type": "text", "text": "1 μT", "fontSize": 16, "align": "left", "baseline": "middle"},
 "encoding": {"x": {"datum": -6.7, "type": "quantitative", "scale": {"domain": [20,-6], "nice": false, "zero": false}, "axis": null}, "y": {"datum": 0.842, "type": "quantitative", "scale": {"domain": [0,1], "range": [171,0], "nice": false, "zero": false}, "axis": null}}},
{"data": {"values": [{}]}, "mark": {"type": "text", "text": "1.5 μT", "fontSize": 16, "align": "left", "baseline": "middle"},
 "encoding": {"x": {"datum": -6.7, "type": "quantitative", "scale": {"domain": [20,-6], "nice": false, "zero": false}, "axis": null}, "y": {"datum": 0.725, "type": "quantitative", "scale": {"domain": [0,1], "range": [171,0], "nice": false, "zero": false}, "axis": null}}},
{"data": {"values": [{}]}, "mark": {"type": "text", "text": "2 μT", "fontSize": 16, "align": "left", "baseline": "middle"},
 "encoding": {"x": {"datum": -6.7, "type": "quantitative", "scale": {"domain": [20,-6], "nice": false, "zero": false}, "axis": null}, "y": {"datum": 0.614, "type": "quantitative", "scale": {"domain": [0,1], "range": [171,0], "nice": false, "zero": false}, "axis": null}}}
]
}
],
"config": {
 "font": "Lato",
 "view": {"stroke": null},
 "axis": {"grid": false, "zindex": 1, "domainColor": "black", "domainWidth": 1.5, "tickColor": "black", "tickWidth": 1.2, "tickSize": -5, "labelPadding": 9, "labelColor": "black", "labelFontSize": 15, "labelFont": "Lato", "labelFlush": false, "labelOverlap": false, "titleColor": "black", "titleFontSize": 16, "titleFontWeight": "normal", "titleFont": "Lato", "titlePadding": 4},
 "legend": {"labelFont": "Lato", "labelColor": "black"},
 "text": {"font": "Lato", "color": "black"}
}
}
